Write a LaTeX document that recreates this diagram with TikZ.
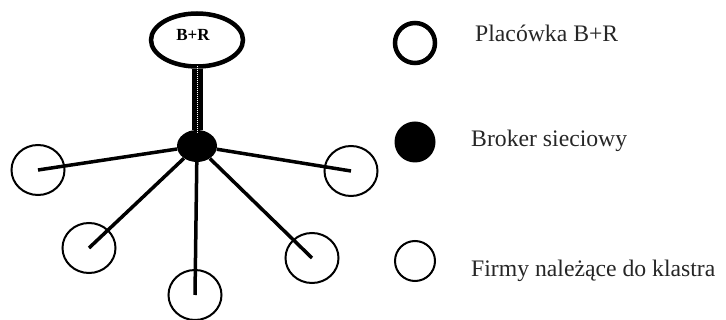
\documentclass[tikz,border=0pt]{standalone}
\usepackage{fontspec}
\setmainfont{Liberation Serif}
\usetikzlibrary{shapes.geometric}
\definecolor{legendtext}{HTML}{262626}
\begin{document}
\begin{tikzpicture}[x=1pt,y=-1pt,
  unit/.style={ellipse,draw,line width=4.5pt,minimum width=92pt,minimum height=53pt,inner sep=0pt},
  brokernode/.style={ellipse,fill=black,minimum width=40pt,minimum height=32pt,inner sep=0pt},
  firm/.style={ellipse,draw,line width=2pt,minimum width=53pt,minimum height=50pt,inner sep=0pt},
  spoke/.style={line width=3.5pt},
  legtext/.style={anchor=base west,inner sep=0pt,text=legendtext,font=\fontsize{23.7}{28}\selectfont}]
  \useasboundingbox (0,0) rectangle (726,320);

  % research & development unit and the broker
  \node[unit] (br) at (197,40) {};
  \node[font=\bfseries\fontsize{17}{20}\selectfont,inner sep=0pt] (brlabel) at (193,35) {B+R};
  \node[brokernode] (broker) at (197,146) {};

  % stem between the unit and the broker
  \draw[line width=11pt] (br.south) -- (broker.north);
  \draw[white,line width=1pt,densely dotted] ([yshift=3pt]br.south) -- ([yshift=-2pt]broker.north);

  % member firms
  \node[firm] (f1) at (38,170) {};
  \node[firm] (f2) at (89,248) {};
  \node[firm] (f3) at (195,295) {};
  \node[firm] (f4) at (312,258) {};
  \node[firm] (f5) at (351,171) {};

  \draw[spoke] (broker) -- (f1.center);
  \draw[spoke] (broker) -- (f2.center);
  \draw[spoke] (broker) -- (f3.center);
  \draw[spoke] (broker) -- (f4.center);
  \draw[spoke] (broker) -- (f5.center);

  % legend
  \node[circle,draw,line width=4.5pt,minimum size=40pt,inner sep=0pt] (l1) at (415,43) {};
  \node[circle,fill=black,minimum size=41pt,inner sep=0pt] (l2) at (415,142) {};
  \node[circle,draw,line width=2pt,minimum size=40pt,inner sep=0pt] (l3) at (415,261) {};
  \node[legtext] (t1) at (475,42) {Placówka B+R};
  \node[legtext] (t2) at (471,147) {Broker sieciowy};
  \node[legtext] (t3) at (471,277) {Firmy należące do klastra};
\end{tikzpicture}
\end{document}
